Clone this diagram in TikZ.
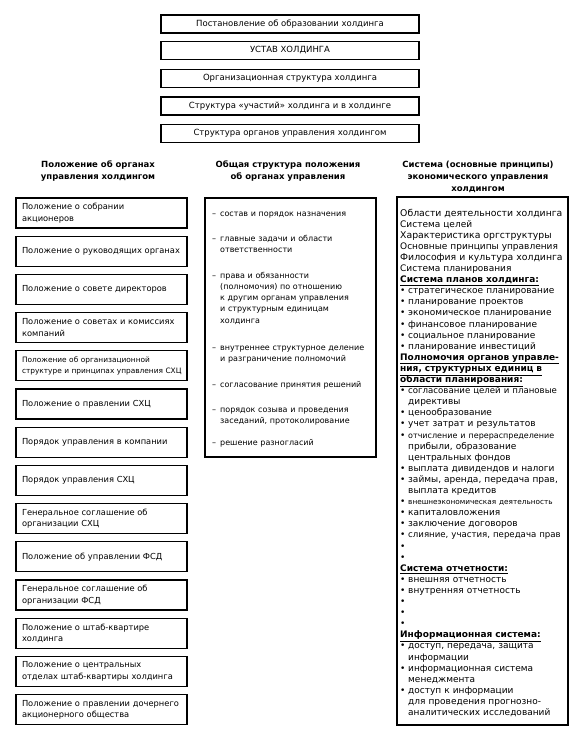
\documentclass[tikz,border=0pt]{standalone}
\usepackage{fontspec}
\setmainfont{DejaVu Sans}
\newcommand{\dashitem}[1]{\makebox[8pt][l]{–}\parbox[t]{152pt}{\raggedright #1}}
\newcommand{\bul}{\makebox[8pt][l]{•}}
\newcommand{\cont}{\hspace*{8pt}}
\newcommand{\headline}[1]{\underline{\textbf{#1}}}
\newcommand{\sz}[1]{\fontsize{#1}{11.1}\selectfont}
\tikzset{
    topbox/.style = {rectangle,draw,line width=1.1pt,minimum width=258pt,minimum height=18pt,inner sep=0pt,font=\fontsize{8.5}{10}\selectfont},
    leftbox/.style = {rectangle,draw,line width=1.1pt,minimum width=171pt,minimum height=30pt,text width=159pt,inner xsep=6pt,inner ysep=0pt,align=left,font=\fontsize{8.3}{11.5}\selectfont},
    colhead/.style = {align=center,font=\bfseries\fontsize{8.5}{12}\selectfont},
    bigbox/.style = {rectangle,draw,line width=1.1pt,minimum width=171pt,inner sep=0pt},
    dashtext/.style = {anchor=base west,text width=160pt,align=left,inner sep=0pt,font=\fontsize{8}{11.3}\selectfont},
    listtext/.style = {anchor=base west,text width=180pt,align=left,inner sep=0pt,font=\fontsize{9}{11.1}\selectfont}}

\begin{document}
\begin{tikzpicture}[x=1pt,y=-1pt]
    \useasboundingbox (0,0) rectangle (577,741);
    % documents of the holding
    \path (290,24) node[topbox] (decree) {Постановление об образовании холдинга}
        ++ (0,26.5) node[topbox] (charter) {УСТАВ ХОЛДИНГА}
        ++ (0,28) node[topbox] (orgstruct) {Организационная структура холдинга}
        ++ (0,27.5) node[topbox] (shares) {Структура «участий» холдинга и в холдинге}
        ++ (0,27.5) node[topbox] (bodies) {Структура органов управления холдингом};
    % column headings
    \node[colhead] (headL) at (98,171) {Положение об органах\\управления холдингом};
    \node[colhead] (headM) at (288,171.5) {Общая структура положения\\об органах управления};
    \node[colhead] (headR) at (478,177) {Система (основные принципы)\\экономического управления\\холдингом};
    % left column
    \path (101.5,213) node[leftbox] (regMeeting) {Положение о собрании\\акционеров}
        ++ (0,38.2) node[leftbox] (regGoverning) {Положение о руководящих органах}
        ++ (0,38.2) node[leftbox] (regBoard) {Положение о совете директоров}
        ++ (0,38.2) node[leftbox] (regCouncils) {Положение о советах и комиссиях\\компаний}
        ++ (0,38.2) node[leftbox,font=\fontsize{7.4}{10.5}\selectfont] (regOrg) {Положение об организационной\\\mbox{структуре и принципах управления СХЦ}}
        ++ (0,38.2) node[leftbox] (regBoardSHC) {Положение о правлении СХЦ}
        ++ (0,38.2) node[leftbox] (orderCompany) {Порядок управления в компании}
        ++ (0,38.2) node[leftbox] (orderSHC) {Порядок управления СХЦ}
        ++ (0,38.2) node[leftbox] (agreeSHC) {Генеральное соглашение об\\организации СХЦ}
        ++ (0,38.2) node[leftbox] (regFSD) {Положение об управлении ФСД}
        ++ (0,38.2) node[leftbox] (agreeFSD) {Генеральное соглашение об\\организации ФСД}
        ++ (0,38.2) node[leftbox] (regHQ) {Положение о штаб-квартире\\холдинга}
        ++ (0,38.2) node[leftbox] (regDepts) {Положение о центральных\\отделах штаб-квартиры холдинга}
        ++ (0,38.2) node[leftbox] (regSub) {Положение о правлении дочернего\\акционерного общества};
    % middle column
    \node[bigbox,minimum height=259pt] (midbox) at (290.5,327.5) {};
    \path (212,216) node[dashtext] (m1) {\dashitem{состав и порядок назначения}}
        ++ (0,25) node[dashtext] (m2) {\dashitem{главные задачи и области\\ответственности}}
        ++ (0,37) node[dashtext] (m3) {\dashitem{права и обязанности\\(полномочия) по отношению\\к другим органам управления\\и структурным единицам\\холдинга}}
        ++ (0,72) node[dashtext] (m4) {\dashitem{внутреннее структурное деление\\и разграничение полномочий}}
        ++ (0,37) node[dashtext] (m5) {\dashitem{согласование принятия решений}}
        ++ (0,25) node[dashtext] (m6) {\dashitem{порядок созыва и проведения\\заседаний, протоколирование}}
        ++ (0,33) node[dashtext] (m7) {\dashitem{решение разногласий}};
    % right column
    \node[bigbox,minimum height=528pt] (rightbox) at (482.5,461) {};
    \node[listtext] (system) at (400,216) {{\sz{9.3}Области деятельности холдинга}\\
        Система целей\\
        {\sz{9.3}Характеристика оргструктуры}\\
        Основные принципы управления\\
        {\sz{9.3}Философия и культура холдинга}\\
        Система планирования\\
        \headline{Система планов холдинга:}\\
        \bul стратегическое планирование\\
        \bul планирование проектов\\
        \bul экономическое планирование\\
        \bul финансовое планирование\\
        \bul социальное планирование\\
        \bul планирование инвестиций\\
        \headline{Полномочия органов управле-}\\
        \headline{ния, структурных единиц в}\\
        \headline{области планирования:}\\
        \bul {\sz{8.6}согласование целей и плановые}\\
        \cont директивы\\
        \bul ценообразование\\
        \bul учет затрат и результатов\\
        \bul {\sz{8}отчисление и перераспределение}\\
        \cont прибыли, образование\\
        \cont центральных фондов\\
        \bul выплата дивидендов и налоги\\
        \bul займы, аренда, передача прав,\\
        \cont выплата кредитов\\
        \bul {\sz{7.3}внешнеэкономическая деятельность}\\
        \bul капиталовложения\\
        \bul заключение договоров\\
        \bul {\sz{8.6}слияние, участия, передача прав}\\
        \bul\\
        \bul\\
        \headline{Система отчетности:}\\
        \bul внешняя отчетность\\
        \bul внутренняя отчетность\\
        \bul\\
        \bul\\
        \bul\\
        \headline{Информационная система:}\\
        \bul доступ, передача, защита\\
        \cont информации\\
        \bul информационная система\\
        \cont менеджмента\\
        \bul доступ к информации\\
        \cont для проведения прогнозно-\\
        \cont аналитических исследований};
\end{tikzpicture}
\end{document}
